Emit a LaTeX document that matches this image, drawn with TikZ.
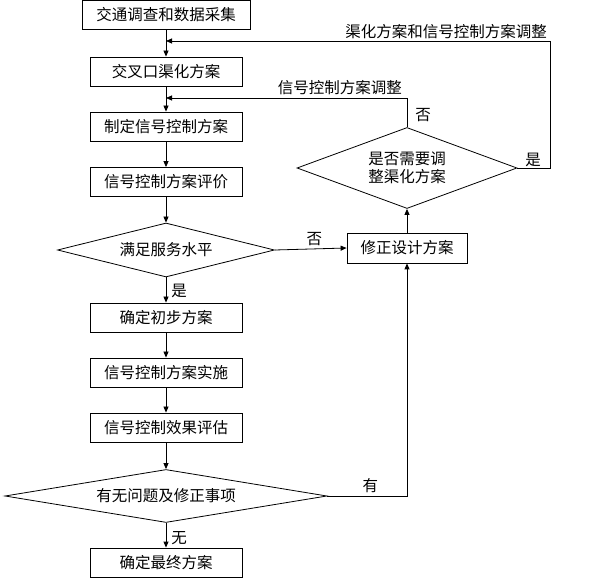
\documentclass[tikz,border=0pt]{standalone}
\usepackage{fontspec}
\newfontfamily\cjk{Noto Sans CJK SC}
\usetikzlibrary{arrows.meta,shapes.geometric,positioning}

\begin{document}
\begin{tikzpicture}[
  x=1pt,y=-1pt,
  >={Triangle[length=6pt,width=5pt]},
  font=\cjk\fontsize{15.5}{18}\selectfont,
  stepbox/.style={draw,line width=0.8pt,minimum width=152pt,minimum height=29pt,inner sep=0pt},
  choice/.style={draw,diamond,line width=0.8pt,inner sep=0pt,align=center},
  flow/.style={line width=0.8pt,->},
  tag/.style={inner sep=1pt}
]
\useasboundingbox (0,0) rectangle (598,580);
\def\mx{166}
% main column
\node[stepbox,minimum width=168pt] (survey) at (\mx,15)    {交通调查和数据采集};
\node[stepbox] (channel) at (\mx,71.5)  {交叉口渠化方案};
\node[stepbox] (plan)    at (\mx,126.5) {制定信号控制方案};
\node[stepbox] (assess)  at (\mx,182)   {信号控制方案评价};
\node[choice,aspect=4,minimum width=217pt,minimum height=54pt] (service) at (\mx,250) {满足服务水平};
\node[stepbox] (draft)   at (\mx,317.5) {确定初步方案};
\node[stepbox] (apply)   at (\mx,372.5) {信号控制方案实施};
\node[stepbox] (effect)  at (\mx,427.5) {信号控制效果评估};
\node[choice,aspect=6,minimum width=322pt,minimum height=53pt] (issue) at (\mx,496) {有无问题及修正事项};
\node[stepbox] (final)   at (\mx,562.5) {确定最终方案};
% right column
\node[stepbox,minimum width=120pt,minimum height=30pt] (revise) at (407,248) {修正设计方案};
\node[choice,aspect=2.7,minimum width=220pt,minimum height=81pt] (adjust) at (407,168) {是否需要调\\整渠化方案};

% joins on the main column
\coordinate (j1) at (\mx,41);
\coordinate (j2) at (\mx,98);
\coordinate (c1) at (550,41);

% main flow
\draw[flow] (survey)--(channel);
\draw[flow] (channel)--(plan);
\draw[flow] (plan)--(assess);
\draw[flow] (assess)--(service);
\draw[flow] (service)--(draft) node[tag,pos=0.55,right=4pt] {是};
\draw[flow] (draft)--(apply);
\draw[flow] (apply)--(effect);
\draw[flow] (effect)--(issue);
\draw[flow] (issue)--(final) node[tag,pos=0.6,right=4pt] {无};

% revision loop
\draw[flow] (service.east)--(revise.west) node[tag,pos=0.55,above=2pt] {否};
\draw[flow] (issue.east)-|(revise.south) node[tag,pos=0.27,above=2pt] {有};
\draw[flow] (revise)--(adjust);
\draw[flow] (adjust.north)|-(j2) node[tag,pos=0.2,right=7pt] {否};
\draw[flow] (adjust.east)-|(c1)--(j1);
\node[tag,anchor=south east] (tune) at (403,96) {信号控制方案调整};
\node[tag,anchor=south east] (yes) at (542,168) {是};
\node[tag,anchor=south east] (both) at (548,40) {渠化方案和信号控制方案调整};
\end{tikzpicture}
\end{document}
